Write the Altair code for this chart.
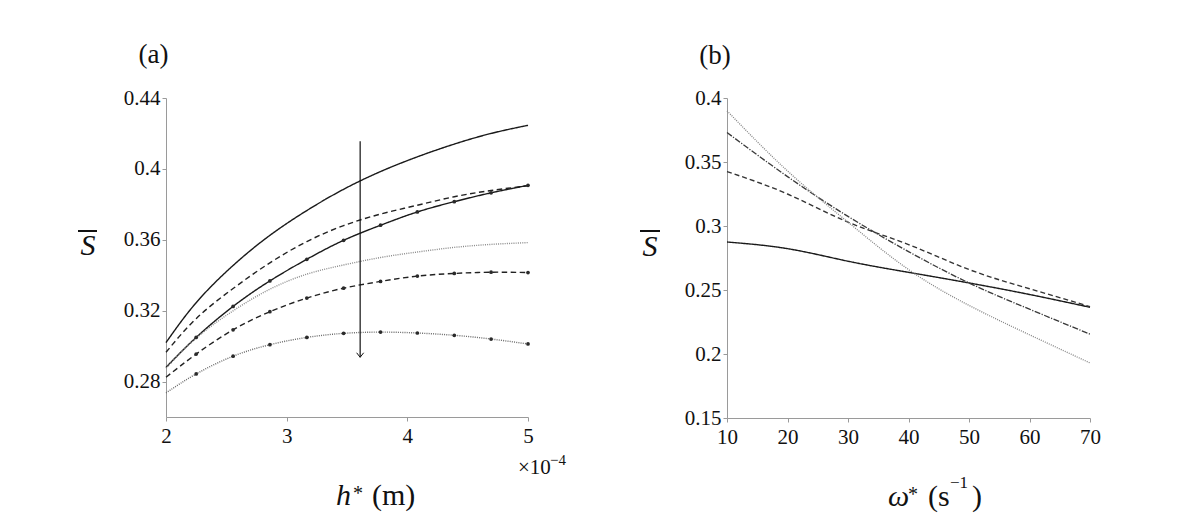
import altair as alt
import pandas as pd

SERIF = "'Liberation Serif', 'DejaVu Serif', serif"

# ---------------- panel (a): S-bar versus h* (h* in units of 1e-4 m) ----------------
h_values = [2.0, 2.25, 2.556, 2.861, 3.167, 3.472, 3.778, 4.083, 4.389, 4.694, 5.0]

s_solid_upper = [0.302, 0.3245, 0.3455, 0.3625, 0.3765, 0.3885, 0.3985, 0.4068, 0.4140, 0.4200, 0.4246]
s_dashed_upper = [0.2965, 0.3155, 0.3325, 0.3470, 0.3590, 0.3680, 0.3745, 0.3795, 0.3843, 0.3878, 0.3905]
s_solid_marked = [0.288, 0.3049, 0.3224, 0.3368, 0.3490, 0.3597, 0.3682, 0.3757, 0.3815, 0.3865, 0.3907]
s_dotted_upper = [0.2875, 0.3045, 0.3199, 0.3321, 0.3406, 0.3458, 0.3500, 0.3531, 0.3557, 0.3574, 0.3584]
s_dashed_marked = [0.2824, 0.2955, 0.3092, 0.3194, 0.3271, 0.3327, 0.3365, 0.3395, 0.3410, 0.3417, 0.3415]
s_dotted_marked = [0.2736, 0.2843, 0.2943, 0.3008, 0.3049, 0.3072, 0.3079, 0.3074, 0.3061, 0.3040, 0.3012]

curves_a = {
    "solid_upper": s_solid_upper,
    "dashed_upper": s_dashed_upper,
    "solid_marked": s_solid_marked,
    "dotted_upper": s_dotted_upper,
    "dashed_marked": s_dashed_marked,
    "dotted_marked": s_dotted_marked,
}
marked_a = ["solid_marked", "dashed_marked", "dotted_marked"]

# trend arrow (h*, top, bottom)
arrow_h = [3.609]
arrow_top = [0.4156]
arrow_bottom = [0.2937]

# ---------------- panel (b): S-bar versus omega* ----------------
omega_values = [10, 20, 30, 40, 50, 60, 70]
s_b_solid = [0.2875, 0.2823, 0.2725, 0.2638, 0.2555, 0.2465, 0.2365]
s_b_dashed = [0.3425, 0.325, 0.303, 0.2855, 0.266, 0.251, 0.237]
s_b_dashdot = [0.373, 0.3386, 0.3075, 0.280, 0.2555, 0.235, 0.2155]
s_b_dotted = [0.390, 0.343, 0.303, 0.266, 0.238, 0.215, 0.193]

curves_b = {
    "solid": s_b_solid,
    "dashed": s_b_dashed,
    "dashdot": s_b_dashdot,
    "dotted": s_b_dotted,
}

# ---------------- tables ----------------
rows_a = []
for name, vals in curves_a.items():
    for h, s in zip(h_values, vals):
        rows_a.append({"curve": name, "h": h, "S": s})
df_a = pd.DataFrame(rows_a)
df_a_marks = df_a[(df_a["curve"].isin(marked_a)) & (df_a["h"] > 2.0)]

rows_b = []
for name, vals in curves_b.items():
    for w, s in zip(omega_values, vals):
        rows_b.append({"curve": name, "omega": w, "S": s})
df_b = pd.DataFrame(rows_b)

df_arrow = pd.DataFrame({"h": arrow_h, "top": arrow_top, "bottom": arrow_bottom})

# ---------------- styles ----------------
names_a = list(curves_a.keys())
colors_a = ["#1a1a1a", "#222222", "#1a1a1a", "#8a8a8a", "#222222", "#6a6a6a"]
dashes_a = [[1, 0], [5.5, 3.5], [1, 0], [1, 1.2], [5.5, 3.5], [1, 1.2]]
widths_a = [1.4, 1.4, 1.4, 1.1, 1.4, 1.1]

names_b = list(curves_b.keys())
colors_b = ["#1a1a1a", "#333333", "#3a3a3a", "#858585"]
dashes_b = [[1, 0], [5, 3], [6, 1.5, 1.2, 1.5], [1, 1.2]]
widths_b = [1.4, 1.3, 1.3, 1.1]

W, H = 362, 319


def axis(values, fmt, pad):
    return alt.Axis(
        values=values,
        format=fmt,
        title=None,
        grid=False,
        domainColor="#9a9a9a",
        domainWidth=1,
        tickColor="#9a9a9a",
        tickSize=4,
        labelPadding=pad,
        labelFont=SERIF,
        labelFontSize=21,
        labelColor="#111111",
        labelOverlap=False,
        labelFlush=False,
    )


def label(text, x, y, size, style="normal", align="left", baseline="alphabetic"):
    return (
        alt.Chart(alt.Data(values=[{"k": 0}]))
        .mark_text(
            text=text,
            font=SERIF,
            fontSize=size,
            fontStyle=style,
            align=align,
            baseline=baseline,
            color="#111111",
        )
        .encode(x=alt.value(x), y=alt.value(y))
    )


def overline(x1, x2, y):
    return (
        alt.Chart(alt.Data(values=[{"k": 0}]))
        .mark_rule(color="#111111", strokeWidth=2)
        .encode(x=alt.value(x1), x2=alt.value(x2), y=alt.value(y))
    )


# ---------------- panel (a) ----------------
xa = alt.X("h:Q", scale=alt.Scale(domain=[2, 5], nice=False, zero=False), axis=axis([2, 3, 4, 5], "d", 4))
ya = alt.Y(
    "S:Q",
    scale=alt.Scale(domain=[0.26, 0.44], nice=False, zero=False),
    axis=axis([0.28, 0.32, 0.36, 0.40, 0.44], ".2~f", 2),
)

lines_a = alt.Chart(df_a).mark_line(interpolate="natural").encode(
    x=xa,
    y=ya,
    color=alt.Color("curve:N", scale=alt.Scale(domain=names_a, range=colors_a), legend=None),
    strokeDash=alt.StrokeDash("curve:N", scale=alt.Scale(domain=names_a, range=dashes_a), legend=None),
    strokeWidth=alt.StrokeWidth("curve:N", scale=alt.Scale(domain=names_a, range=widths_a), legend=None),
)

points_a = alt.Chart(df_a_marks).mark_point(filled=True, size=14, color="#2a2a2a", opacity=1).encode(
    x="h:Q", y="S:Q"
)

arrow_shaft = alt.Chart(df_arrow).mark_rule(color="#111111", strokeWidth=1.2).encode(
    x="h:Q", y="top:Q", y2="bottom:Q"
)
arrow_head = alt.Chart(df_arrow).mark_point(
    shape="M-0.78,-1L0,0L0.78,-1", size=81, filled=False, color="#111111", strokeWidth=1, opacity=1
).encode(x="h:Q", y="bottom:Q")

panel_a = alt.layer(
    lines_a,
    points_a,
    arrow_shaft,
    arrow_head,
    label("(a)", -12.5, -43, 27, align="center", baseline="middle"),
    label("S", -78, 157, 30, style="italic", align="center"),
    overline(-88, -69, 133),
    label("h", 170, 407, 30, style="italic"),
    label("*", 187, 402, 20),
    label("(m)", 206, 407, 30),
    label("×10", 352, 376, 21),
    label("−4", 384, 367, 15),
).properties(width=W, height=H)

# ---------------- panel (b) ----------------
xb = alt.X(
    "omega:Q",
    scale=alt.Scale(domain=[10, 70], nice=False, zero=False),
    axis=axis([10, 20, 30, 40, 50, 60, 70], "d", 4),
)
yb = alt.Y(
    "S:Q",
    scale=alt.Scale(domain=[0.15, 0.40], nice=False, zero=False),
    axis=axis([0.15, 0.20, 0.25, 0.30, 0.35, 0.40], ".2~f", 2),
)

lines_b = alt.Chart(df_b).mark_line(interpolate="natural").encode(
    x=xb,
    y=yb,
    color=alt.Color("curve:N", scale=alt.Scale(domain=names_b, range=colors_b), legend=None),
    strokeDash=alt.StrokeDash("curve:N", scale=alt.Scale(domain=names_b, range=dashes_b), legend=None),
    strokeWidth=alt.StrokeWidth("curve:N", scale=alt.Scale(domain=names_b, range=widths_b), legend=None),
)

panel_b = alt.layer(
    lines_b,
    label("(b)", -12, -42, 27, align="center", baseline="middle"),
    label("S", -77, 158, 30, style="italic", align="center"),
    overline(-87, -67, 133),
    label("ω", 161, 408, 30, style="italic"),
    label("*", 181, 403, 20),
    label("(s", 201, 408, 30),
    label("−1", 223, 390, 17),
    label(")", 245, 408, 30),
).properties(width=W + 1, height=H + 1)

chart = (
    alt.hconcat(panel_a, panel_b, spacing=73)
    .resolve_scale(color="independent", strokeDash="independent", strokeWidth="independent")
    .properties(padding={"left": 77, "top": 41, "right": 5, "bottom": 5}, background="white")
    .configure_view(stroke=None)
)

chart.save("out.html", embed_options={"renderer": "svg", "actions": False})
